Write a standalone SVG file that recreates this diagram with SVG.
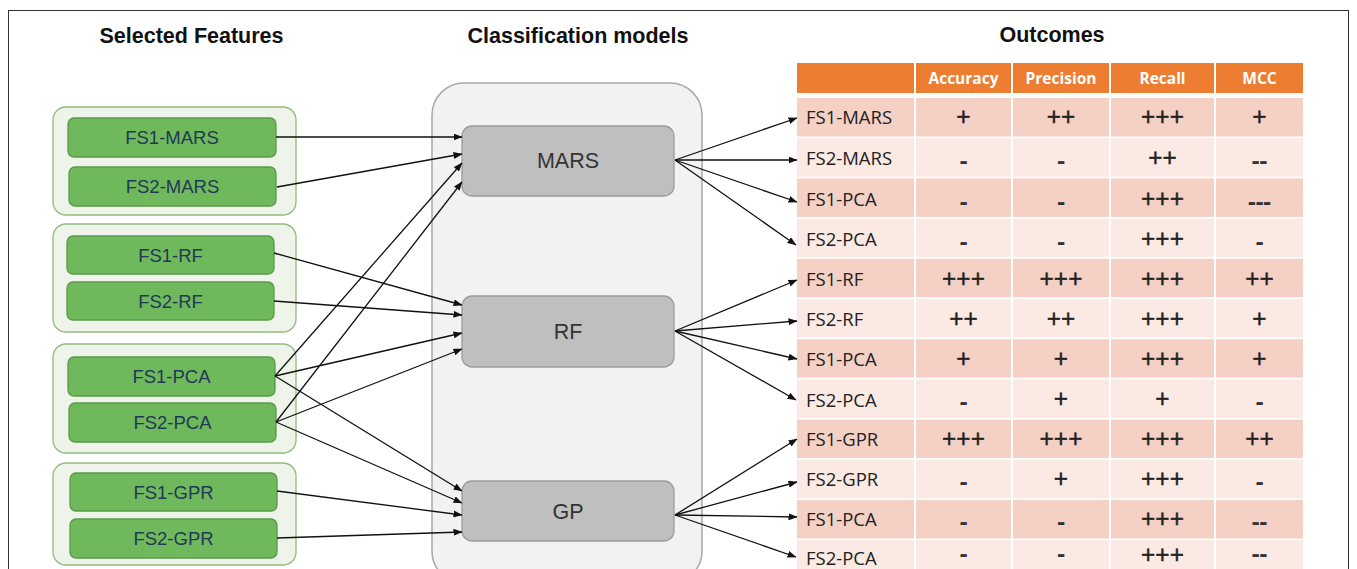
<svg xmlns="http://www.w3.org/2000/svg" width="1357" height="569" viewBox="0 0 1357 569">
<defs>
<marker id="ah" markerWidth="9" markerHeight="7" refX="8.5" refY="3.5" orient="auto" markerUnits="userSpaceOnUse">
<path d="M0,0 L9,3.5 L0,7 z" fill="#111"/>
</marker>
<style>
.title{font-family:"Liberation Sans",Arial,sans-serif;font-weight:bold;font-size:21.5px;fill:#111;text-anchor:middle}
.grp{fill:#eff4ea;stroke:#93b97d;stroke-width:1.3}
.fs{fill:#70b85c;stroke:#5a9a47;stroke-width:1.3}
.fst{font-family:"Liberation Sans",Arial,sans-serif;font-size:18.5px;fill:#1e3a56;text-anchor:middle}
.cont{fill:#f2f2f2;stroke:#a8a8a8;stroke-width:1.5}
.mdl{fill:#bfbfbf;stroke:#9c9c9c;stroke-width:1.3}
.mdt{font-family:"Liberation Sans",Arial,sans-serif;font-size:21.5px;fill:#333;text-anchor:middle}
.hdr{fill:#ed7d31}
.hdt{font-family:"Open Sans",sans-serif;font-weight:bold;font-size:15.5px;fill:#fff;text-anchor:middle}
.dk{fill:#f5d0c4}
.lt{fill:#fbe9e4}
.lbl{font-family:"Open Sans",sans-serif;font-size:18.5px;fill:#222}
.pl{font-family:"Open Sans",sans-serif;font-size:25px;fill:#222;stroke:#222;stroke-width:0.5;text-anchor:middle}
.mn{font-family:"Open Sans",sans-serif;font-weight:bold;font-size:24px;fill:#333;text-anchor:middle}
.cn{fill:none;stroke:#111;stroke-width:1.3;marker-end:url(#ah)}
</style>
</defs>
<rect x="8.5" y="10.5" width="1340" height="620" fill="#fff" stroke="#333" stroke-width="1"/>

<text class="title" x="191.5" y="43">Selected Features</text>
<text class="title" x="578" y="43">Classification models</text>
<text class="title" x="1052" y="42">Outcomes</text>

<g id="group-mars">
<rect class="grp" x="53" y="107" width="243" height="108" rx="13"/>
<g id="fs1-mars"><rect class="fs" x="68" y="118" width="208" height="39" rx="6"/><text class="fst" x="172" y="144">FS1-MARS</text></g>
<g id="fs2-mars"><rect class="fs" x="69" y="167" width="207" height="39" rx="6"/><text class="fst" x="172.5" y="193">FS2-MARS</text></g>
</g>
<g id="group-rf">
<rect class="grp" x="53" y="224" width="243" height="108" rx="13"/>
<g id="fs1-rf"><rect class="fs" x="67" y="236" width="207" height="38" rx="6"/><text class="fst" x="170.5" y="262">FS1-RF</text></g>
<g id="fs2-rf"><rect class="fs" x="67" y="282" width="207" height="38" rx="6"/><text class="fst" x="170.5" y="308">FS2-RF</text></g>
</g>
<g id="group-pca">
<rect class="grp" x="53" y="344" width="243" height="109" rx="13"/>
<g id="fs1-pca"><rect class="fs" x="68" y="357" width="207" height="39" rx="6"/><text class="fst" x="171.5" y="383">FS1-PCA</text></g>
<g id="fs2-pca"><rect class="fs" x="69" y="403" width="207" height="39" rx="6"/><text class="fst" x="172.5" y="429">FS2-PCA</text></g>
</g>
<g id="group-gpr">
<rect class="grp" x="53" y="463" width="243" height="102" rx="13"/>
<g id="fs1-gpr"><rect class="fs" x="70" y="473" width="207" height="38" rx="6"/><text class="fst" x="173.5" y="499">FS1-GPR</text></g>
<g id="fs2-gpr"><rect class="fs" x="70" y="519" width="207" height="39" rx="6"/><text class="fst" x="173.5" y="545">FS2-GPR</text></g>
</g>

<g id="models">
<rect class="cont" x="432" y="83" width="270" height="500" rx="32"/>
<g id="mars"><rect class="mdl" x="462" y="126" width="212" height="70" rx="10"/><text class="mdt" x="568" y="168">MARS</text></g>
<g id="rf"><rect class="mdl" x="462" y="296" width="212" height="71" rx="10"/><text class="mdt" x="568" y="339">RF</text></g>
<g id="gp"><rect class="mdl" x="462" y="481" width="212" height="60" rx="10"/><text class="mdt" x="568" y="519">GP</text></g>
</g>

<g id="outcomes">
<rect class="hdr" x="797" y="63" width="117" height="30"/>
<rect class="hdr" x="916" y="63" width="95" height="30"/>
<rect class="hdr" x="1013" y="63" width="96" height="30"/>
<rect class="hdr" x="1111" y="63" width="103" height="30"/>
<rect class="hdr" x="1216" y="63" width="87" height="30"/>
<text class="hdt" x="963.5" y="84">Accuracy</text>
<text class="hdt" x="1061" y="84">Precision</text>
<text class="hdt" x="1162.5" y="84">Recall</text>
<text class="hdt" x="1259.5" y="84">MCC</text>

<g id="rows-bg">
<g class="dk"><rect x="797" y="98" width="117" height="38.5"/><rect x="916" y="98" width="95" height="38.5"/><rect x="1013" y="98" width="96" height="38.5"/><rect x="1111" y="98" width="103" height="38.5"/><rect x="1216" y="98" width="87" height="38.5"/></g>
<g class="lt"><rect x="797" y="138.2" width="117" height="38.5"/><rect x="916" y="138.2" width="95" height="38.5"/><rect x="1013" y="138.2" width="96" height="38.5"/><rect x="1111" y="138.2" width="103" height="38.5"/><rect x="1216" y="138.2" width="87" height="38.5"/></g>
<g class="dk"><rect x="797" y="178.4" width="117" height="38.5"/><rect x="916" y="178.4" width="95" height="38.5"/><rect x="1013" y="178.4" width="96" height="38.5"/><rect x="1111" y="178.4" width="103" height="38.5"/><rect x="1216" y="178.4" width="87" height="38.5"/></g>
<g class="lt"><rect x="797" y="218.6" width="117" height="38.5"/><rect x="916" y="218.6" width="95" height="38.5"/><rect x="1013" y="218.6" width="96" height="38.5"/><rect x="1111" y="218.6" width="103" height="38.5"/><rect x="1216" y="218.6" width="87" height="38.5"/></g>
<g class="dk"><rect x="797" y="258.8" width="117" height="38.5"/><rect x="916" y="258.8" width="95" height="38.5"/><rect x="1013" y="258.8" width="96" height="38.5"/><rect x="1111" y="258.8" width="103" height="38.5"/><rect x="1216" y="258.8" width="87" height="38.5"/></g>
<g class="lt"><rect x="797" y="299" width="117" height="38.5"/><rect x="916" y="299" width="95" height="38.5"/><rect x="1013" y="299" width="96" height="38.5"/><rect x="1111" y="299" width="103" height="38.5"/><rect x="1216" y="299" width="87" height="38.5"/></g>
<g class="dk"><rect x="797" y="339.2" width="117" height="38.5"/><rect x="916" y="339.2" width="95" height="38.5"/><rect x="1013" y="339.2" width="96" height="38.5"/><rect x="1111" y="339.2" width="103" height="38.5"/><rect x="1216" y="339.2" width="87" height="38.5"/></g>
<g class="lt"><rect x="797" y="379.4" width="117" height="38.5"/><rect x="916" y="379.4" width="95" height="38.5"/><rect x="1013" y="379.4" width="96" height="38.5"/><rect x="1111" y="379.4" width="103" height="38.5"/><rect x="1216" y="379.4" width="87" height="38.5"/></g>
<g class="dk"><rect x="797" y="419.6" width="117" height="38.5"/><rect x="916" y="419.6" width="95" height="38.5"/><rect x="1013" y="419.6" width="96" height="38.5"/><rect x="1111" y="419.6" width="103" height="38.5"/><rect x="1216" y="419.6" width="87" height="38.5"/></g>
<g class="lt"><rect x="797" y="459.8" width="117" height="38.5"/><rect x="916" y="459.8" width="95" height="38.5"/><rect x="1013" y="459.8" width="96" height="38.5"/><rect x="1111" y="459.8" width="103" height="38.5"/><rect x="1216" y="459.8" width="87" height="38.5"/></g>
<g class="dk"><rect x="797" y="500" width="117" height="38.5"/><rect x="916" y="500" width="95" height="38.5"/><rect x="1013" y="500" width="96" height="38.5"/><rect x="1111" y="500" width="103" height="38.5"/><rect x="1216" y="500" width="87" height="38.5"/></g>
<g class="lt"><rect x="797" y="540.2" width="117" height="38.5"/><rect x="916" y="540.2" width="95" height="38.5"/><rect x="1013" y="540.2" width="96" height="38.5"/><rect x="1111" y="540.2" width="103" height="38.5"/><rect x="1216" y="540.2" width="87" height="38.5"/></g>
</g>

<g id="row-labels" class="lbl">
<text x="806" y="124">FS1-MARS</text>
<text x="806" y="165">FS2-MARS</text>
<text x="806" y="206">FS1-PCA</text>
<text x="806" y="246">FS2-PCA</text>
<text x="806" y="286">FS1-RF</text>
<text x="806" y="326">FS2-RF</text>
<text x="806" y="366">FS1-PCA</text>
<text x="806" y="407">FS2-PCA</text>
<text x="806" y="446">FS1-GPR</text>
<text x="806" y="486">FS2-GPR</text>
<text x="806" y="526">FS1-PCA</text>
<text x="806" y="565">FS2-PCA</text>
</g>

<g id="values">
<text class="pl" x="963.5" y="126">+</text><text class="pl" x="1061" y="126">++</text><text class="pl" x="1162.5" y="126">+++</text><text class="pl" x="1259.5" y="126">+</text>
<text class="mn" x="963.5" y="169">-</text><text class="mn" x="1061" y="169">-</text><text class="pl" x="1162.5" y="167">++</text><text class="mn" x="1259.5" y="169">--</text>
<text class="mn" x="963.5" y="210">-</text><text class="mn" x="1061" y="210">-</text><text class="pl" x="1162.5" y="208">+++</text><text class="mn" x="1259.5" y="210">---</text>
<text class="mn" x="963.5" y="250">-</text><text class="mn" x="1061" y="250">-</text><text class="pl" x="1162.5" y="248">+++</text><text class="mn" x="1259.5" y="250">-</text>
<text class="pl" x="963.5" y="288">+++</text><text class="pl" x="1061" y="288">+++</text><text class="pl" x="1162.5" y="288">+++</text><text class="pl" x="1259.5" y="288">++</text>
<text class="pl" x="963.5" y="328">++</text><text class="pl" x="1061" y="328">++</text><text class="pl" x="1162.5" y="328">+++</text><text class="pl" x="1259.5" y="328">+</text>
<text class="pl" x="963.5" y="368">+</text><text class="pl" x="1061" y="368">+</text><text class="pl" x="1162.5" y="368">+++</text><text class="pl" x="1259.5" y="368">+</text>
<text class="mn" x="963.5" y="410">-</text><text class="pl" x="1061" y="408">+</text><text class="pl" x="1162.5" y="408">+</text><text class="mn" x="1259.5" y="410">-</text>
<text class="pl" x="963.5" y="448">+++</text><text class="pl" x="1061" y="448">+++</text><text class="pl" x="1162.5" y="448">+++</text><text class="pl" x="1259.5" y="448">++</text>
<text class="mn" x="963.5" y="490">-</text><text class="pl" x="1061" y="488">+</text><text class="pl" x="1162.5" y="488">+++</text><text class="mn" x="1259.5" y="490">-</text>
<text class="mn" x="963.5" y="530">-</text><text class="mn" x="1061" y="530">-</text><text class="pl" x="1162.5" y="528">+++</text><text class="mn" x="1259.5" y="530">--</text>
<text class="mn" x="963.5" y="562">-</text><text class="mn" x="1061" y="562">-</text><text class="pl" x="1162.5" y="564">+++</text><text class="mn" x="1259.5" y="562">--</text>
</g>
</g>

<g id="connectors">
<line class="cn" x1="276" y1="137" x2="462" y2="137"/>
<line class="cn" x1="277" y1="187" x2="462" y2="154"/>
<line class="cn" x1="275" y1="376" x2="462" y2="163"/>
<line class="cn" x1="276" y1="422" x2="462" y2="182"/>
<line class="cn" x1="274" y1="253" x2="462" y2="305"/>
<line class="cn" x1="274" y1="301" x2="462" y2="315"/>
<line class="cn" x1="275" y1="376" x2="462" y2="333"/>
<line class="cn" x1="276" y1="422" x2="462" y2="349"/>
<line class="cn" x1="275" y1="376" x2="462" y2="491"/>
<line class="cn" x1="276" y1="422" x2="462" y2="503"/>
<line class="cn" x1="277" y1="491" x2="462" y2="515"/>
<line class="cn" x1="277" y1="538" x2="462" y2="532"/>
<line class="cn" x1="675" y1="160" x2="797" y2="118"/>
<line class="cn" x1="675" y1="160" x2="797" y2="160"/>
<line class="cn" x1="675" y1="160" x2="797" y2="202"/>
<line class="cn" x1="675" y1="160" x2="796" y2="245"/>
<line class="cn" x1="675" y1="331" x2="797" y2="280"/>
<line class="cn" x1="675" y1="331" x2="797" y2="321"/>
<line class="cn" x1="675" y1="331" x2="797" y2="359"/>
<line class="cn" x1="675" y1="331" x2="796" y2="400"/>
<line class="cn" x1="675" y1="515" x2="797" y2="439"/>
<line class="cn" x1="675" y1="515" x2="797" y2="482"/>
<line class="cn" x1="675" y1="515" x2="797" y2="517"/>
<line class="cn" x1="675" y1="515" x2="796" y2="557"/>
</g>
</svg>
